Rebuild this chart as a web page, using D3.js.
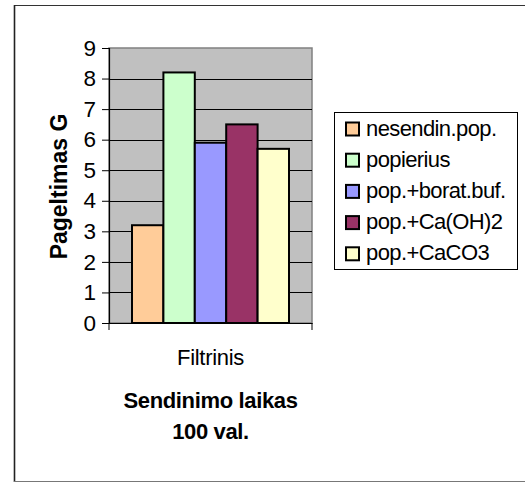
<!DOCTYPE html>
<html>
<head>
<meta charset="utf-8">
<script src="https://cdn.jsdelivr.net/npm/d3@7"></script>
<style>
  html, body { margin: 0; padding: 0; background: #fff; }
  svg { display: block; font-family: "Liberation Sans", Arial, sans-serif; }
</style>
</head>
<body>
<svg id="chart" width="525" height="483"></svg>
<script>
// Chart data
const categories = ["Filtrinis"];
const seriesNames = ["nesendin.pop.", "popierius", "pop.+borat.buf.", "pop.+Ca(OH)2", "pop.+CaCO3"];
const seriesValues = [3.2, 8.2, 5.9, 6.5, 5.7];
const seriesColors = ["#FFCC99", "#CCFFCC", "#9999FF", "#993366", "#FFFFCC"];
const yTicks = [0, 1, 2, 3, 4, 5, 6, 7, 8, 9];
const yTitle = "Pageltimas G";
const xTitleLines = ["Sendinimo laikas", "100 val."];

const FONT = "Liberation Sans, Arial, sans-serif";
const svg = d3.select("#chart");

// Outer chart frame (runs off the right edge)
const frame = svg.append("g");
frame.append("line").attr("x1", 14).attr("x2", 525).attr("y1", 5.5).attr("y2", 5.5)
  .attr("stroke", "#333").attr("stroke-width", 1.2);
frame.append("line").attr("x1", 14.5).attr("x2", 14.5).attr("y1", 5).attr("y2", 482)
  .attr("stroke", "#222").attr("stroke-width", 1.6);
frame.append("line").attr("x1", 14).attr("x2", 525).attr("y1", 481.5).attr("y2", 481.5)
  .attr("stroke", "#777").attr("stroke-width", 1.2);

const plot = { left: 109, right: 312, top: 48, bottom: 323 };

const y = d3.scaleLinear().domain([0, 9]).range([plot.bottom, plot.top]);
const xCat = d3.scaleBand().domain(categories).range([plot.left, plot.right]);
const xSeries = d3.scaleBand().domain(seriesNames)
  .range([xCat(categories[0]) + 23, xCat(categories[0]) + xCat.bandwidth() - 23])
  .paddingInner(0);

// Plot background
svg.append("rect")
  .attr("x", plot.left).attr("y", plot.top)
  .attr("width", plot.right - plot.left).attr("height", plot.bottom - plot.top)
  .attr("fill", "#C0C0C0").attr("stroke", "#808080").attr("stroke-width", 1.5);

// Gridlines
svg.append("g")
  .selectAll("line")
  .data(yTicks.filter(d => d > 0 && d < 9))
  .join("line")
  .attr("x1", plot.left).attr("x2", plot.right)
  .attr("y1", d => Math.round(y(d)) + 0.5).attr("y2", d => Math.round(y(d)) + 0.5)
  .attr("stroke", "#000").attr("stroke-width", 1);

// Bars
svg.append("g")
  .selectAll("rect")
  .data(seriesValues)
  .join("rect")
  .attr("x", (d, i) => xSeries(seriesNames[i]))
  .attr("y", d => y(d))
  .attr("width", xSeries.bandwidth())
  .attr("height", d => y(0) - y(d))
  .attr("fill", (d, i) => seriesColors[i])
  .attr("stroke", "#000").attr("stroke-width", 2);

// Y axis
const yAxis = d3.axisLeft(y).tickValues(yTicks).tickSize(7).tickPadding(6);
const gy = svg.append("g")
  .attr("transform", `translate(${plot.left},0)`)
  .call(yAxis);
gy.attr("font-size", null).attr("font-family", null);
gy.select(".domain").attr("stroke", "#000").attr("stroke-width", 1.2);
gy.selectAll(".tick line").attr("stroke", "#000");
gy.selectAll(".tick text")
  .style("font-size", "22.5px").attr("fill", "#000")
  .style("font-family", FONT);

// X axis
const xAxis = d3.axisBottom(xCat).tickSize(0).tickPadding(0);
const gx = svg.append("g")
  .attr("transform", `translate(0,${plot.bottom})`)
  .call(xAxis);
gx.attr("font-size", null).attr("font-family", null);
gx.select(".domain").attr("stroke", "#000").attr("stroke-width", 1.2);
gx.selectAll(".tick text")
  .attr("dy", null).attr("y", 365 - plot.bottom)
  .style("font-size", "22px").style("letter-spacing", "-0.3px")
  .attr("fill", "#000")
  .style("font-family", FONT);
// Category boundary tick marks
gx.selectAll(".cat-edge")
  .data([plot.left, plot.right])
  .join("line")
  .attr("x1", d => d).attr("x2", d => d)
  .attr("y1", 0).attr("y2", 7)
  .attr("stroke", "#000");

// Axis titles
svg.append("text")
  .attr("transform", `translate(67,${(plot.top + plot.bottom) / 2 + 1}) rotate(-90)`)
  .attr("text-anchor", "middle")
  .style("font-size", "23px").attr("font-weight", "bold")
  .text(yTitle);

svg.append("g")
  .selectAll("text")
  .data(xTitleLines)
  .join("text")
  .attr("x", (plot.left + plot.right) / 2)
  .attr("y", (d, i) => 408 + i * 31)
  .attr("text-anchor", "middle")
  .style("font-size", "22px").style("letter-spacing", "-0.35px")
  .attr("font-weight", "bold")
  .text(d => d);

// Legend
const legend = svg.append("g");
legend.append("rect")
  .attr("x", 334.5).attr("y", 112.5)
  .attr("width", 183).attr("height", 157)
  .attr("fill", "#fff").attr("stroke", "#000").attr("stroke-width", 1);

const items = legend.selectAll("g.item")
  .data(seriesNames)
  .join("g")
  .attr("class", "item")
  .attr("transform", (d, i) => `translate(0,${129 + i * 31.2})`);
items.append("rect")
  .attr("x", 346).attr("y", -6.5)
  .attr("width", 13).attr("height", 13)
  .attr("fill", (d, i) => seriesColors[i])
  .attr("stroke", "#000").attr("stroke-width", 2);
items.append("text")
  .attr("x", 366).attr("y", 6.5)
  .style("font-size", "22px").style("letter-spacing", "-0.6px")
  .text(d => d);
</script>
</body>
</html>
